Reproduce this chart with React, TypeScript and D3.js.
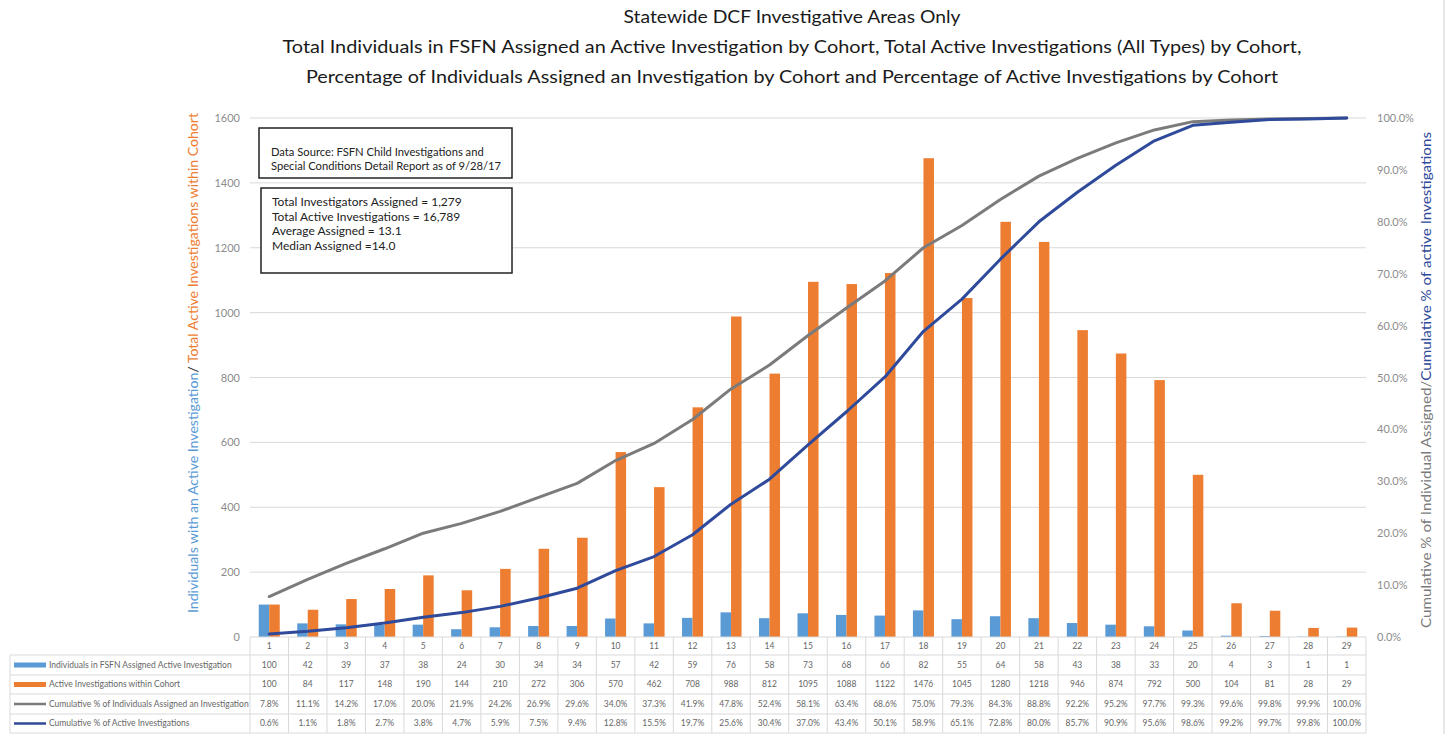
import React, { useEffect, useRef } from 'react'
import { select, scaleBand, scaleLinear, axisLeft, axisRight, line } from 'd3'

const cohorts = ['1', '2', '3', '4', '5', '6', '7', '8', '9', '10', '11', '12', '13', '14', '15',
  '16', '17', '18', '19', '20', '21', '22', '23', '24', '25', '26', '27', '28', '29']

const individuals = [100, 42, 39, 37, 38, 24, 30, 34, 34, 57, 42, 59, 76, 58, 73, 68, 66, 82, 55, 64,
  58, 43, 38, 33, 20, 4, 3, 1, 1]

const activeInv = [100, 84, 117, 148, 190, 144, 210, 272, 306, 570, 462, 708, 988, 812, 1095, 1088,
  1122, 1476, 1045, 1280, 1218, 946, 874, 792, 500, 104, 81, 28, 29]

const cumIndividuals = [7.8, 11.1, 14.2, 17.0, 20.0, 21.9, 24.2, 26.9, 29.6, 34.0, 37.3, 41.9, 47.8,
  52.4, 58.1, 63.4, 68.6, 75.0, 79.3, 84.3, 88.8, 92.2, 95.2, 97.7, 99.3, 99.6, 99.8, 99.9, 100.0]

const cumActive = [0.6, 1.1, 1.8, 2.7, 3.8, 4.7, 5.9, 7.5, 9.4, 12.8, 15.5, 19.7, 25.6, 30.4, 37.0,
  43.4, 50.1, 58.9, 65.1, 72.8, 80.0, 85.7, 90.9, 95.6, 98.6, 99.2, 99.7, 99.8, 100.0]

const leftTicks = [0, 200, 400, 600, 800, 1000, 1200, 1400, 1600]
const rightTicks = [0, 10, 20, 30, 40, 50, 60, 70, 80, 90, 100]

const titleLines = [
  'Statewide DCF Investigative Areas Only',
  'Total Individuals in FSFN Assigned an Active Investigation by Cohort, Total Active Investigations (All Types) by Cohort,',
  'Percentage of Individuals Assigned an Investigation by Cohort and Percentage of Active Investigations by Cohort',
]

const sourceNote = ['Data Source: FSFN Child Investigations and', 'Special Conditions Detail Report as of 9/28/17']
const statsNote = ['Total Investigators Assigned = 1,279', 'Total Active Investigations = 16,789',
  'Average Assigned = 13.1', 'Median Assigned =14.0']

const BLUE = '#5b9bd5'
const ORANGE = '#ed7d31'
const GRAY = '#7b7b7b'
const NAVY = '#2f4a9a'
const GRID = '#d9d9d9'
const FONT = 'Lato, "Open Sans", sans-serif'

const App = () => {
  const svgRef = useRef<SVGSVGElement>(null)

  useEffect(() => {
    const svg = select(svgRef.current)
    svg.selectAll('*').remove()

    const left = 250, right = 1366, top = 118, bottom = 637

    const x = scaleBand().domain(cohorts).range([left, right]).padding(0)
    const xSub = scaleBand().domain(['ind', 'act']).range([0, x.bandwidth()])
      .paddingInner(0).paddingOuter(0.83)
    const yLeft = scaleLinear().domain([0, 1600]).range([bottom, top])
    const yRight = scaleLinear().domain([0, 100]).range([bottom, top])

    svg.append('rect').attr('width', 1452).attr('height', 734).attr('fill', '#fff')

    // title
    const tw = [337, 1019, 972]
    svg.selectAll('.title')
      .data(titleLines)
      .join('text')
      .attr('class', 'title')
      .attr('x', 792)
      .attr('y', (d, i) => 23 + i * 30)
      .attr('text-anchor', 'middle')
      .attr('font-family', FONT)
      .attr('font-size', 18)
      .attr('fill', '#1a1a1a')
      .attr('textLength', (d, i) => tw[i])
      .attr('lengthAdjust', 'spacingAndGlyphs')
      .text(d => d)

    // gridlines
    svg.selectAll('.grid')
      .data(leftTicks.slice(1))
      .join('line')
      .attr('class', 'grid')
      .attr('x1', left).attr('x2', right)
      .attr('y1', d => yLeft(d)).attr('y2', d => yLeft(d))
      .attr('stroke', GRID).attr('stroke-width', 1)

    // bars
    svg.selectAll('.barInd')
      .data(individuals)
      .join('rect')
      .attr('class', 'barInd')
      .attr('x', (d, i) => x(cohorts[i])! + xSub('ind')!)
      .attr('width', xSub.bandwidth())
      .attr('y', d => yLeft(d))
      .attr('height', d => bottom - yLeft(d))
      .attr('fill', BLUE)

    svg.selectAll('.barAct')
      .data(activeInv)
      .join('rect')
      .attr('class', 'barAct')
      .attr('x', (d, i) => x(cohorts[i])! + xSub('act')!)
      .attr('width', xSub.bandwidth())
      .attr('y', d => yLeft(d))
      .attr('height', d => bottom - yLeft(d))
      .attr('fill', ORANGE)

    // cumulative lines
    const cx = (i: number) => x(cohorts[i])! + x.bandwidth() / 2
    const pctLine = line<number>().x((d, i) => cx(i)).y(d => yRight(d))

    svg.append('path').attr('d', pctLine(cumIndividuals))
      .attr('fill', 'none').attr('stroke', GRAY).attr('stroke-width', 3)
      .attr('stroke-linejoin', 'round').attr('stroke-linecap', 'round')
    svg.append('path').attr('d', pctLine(cumActive))
      .attr('fill', 'none').attr('stroke', NAVY).attr('stroke-width', 3)
      .attr('stroke-linejoin', 'round').attr('stroke-linecap', 'round')

    // axes
    const gl = svg.append('g').attr('transform', 'translate(240,0)')
      .call(axisLeft(yLeft).tickValues(leftTicks).tickSize(0).tickPadding(0)
        .tickFormat(d => String(d)))
    gl.select('.domain').remove()
    gl.selectAll('text').attr('font-family', FONT).attr('font-size', 11).attr('fill', '#8c8c8c')

    const gr = svg.append('g').attr('transform', 'translate(1377,0)')
      .call(axisRight(yRight).tickValues(rightTicks).tickSize(0).tickPadding(0)
        .tickFormat(d => (d as number).toFixed(1) + '%'))
    gr.select('.domain').remove()
    gr.selectAll('text').attr('font-family', FONT).attr('font-size', 11).attr('fill', '#8c8c8c')

    // axis titles
    const lt = svg.append('text')
      .attr('transform', 'translate(198,363) rotate(-90)')
      .attr('text-anchor', 'middle')
      .attr('font-family', FONT).attr('font-size', 13)
      .attr('textLength', 500).attr('lengthAdjust', 'spacingAndGlyphs')
    lt.append('tspan').attr('fill', BLUE).text('Individuals with an Active Investigation')
    lt.append('tspan').attr('fill', '#333').text('/ ')
    lt.append('tspan').attr('fill', ORANGE).text('Total Active Investigations within Cohort')

    const rt = svg.append('text')
      .attr('transform', 'translate(1431,380) rotate(-90)')
      .attr('text-anchor', 'middle')
      .attr('font-family', FONT).attr('font-size', 13)
      .attr('textLength', 496).attr('lengthAdjust', 'spacingAndGlyphs')
    rt.append('tspan').attr('fill', GRAY).text('Cumulative % of Individual Assigned/')
    rt.append('tspan').attr('fill', NAVY).text('Cumulative % of active Investigations')

    // note boxes
    const box1 = svg.append('g')
    box1.append('rect').attr('x', 259).attr('y', 128).attr('width', 253).attr('height', 50)
      .attr('fill', '#fff').attr('stroke', '#222').attr('stroke-width', 1.5)
    box1.selectAll('text').data(sourceNote).join('text')
      .attr('x', 271).attr('y', (d, i) => 156 + i * 13.5)
      .attr('font-family', FONT).attr('font-size', 11.2).attr('fill', '#222')
      .text(d => d)

    const box2 = svg.append('g')
    box2.append('rect').attr('x', 261).attr('y', 188).attr('width', 251).attr('height', 85)
      .attr('fill', '#fff').attr('stroke', '#222').attr('stroke-width', 1.5)
    box2.selectAll('text').data(statsNote).join('text')
      .attr('x', 272).attr('y', (d, i) => 206 + i * 14.5)
      .attr('font-family', FONT).attr('font-size', 12).attr('fill', '#222')
      .text(d => d)

    // data table
    const rowTops = [637, 655, 675, 694, 714, 733]
    const tableLeft = 10
    const tg = svg.append('g')

    // horizontal rules
    rowTops.forEach((y, i) => {
      tg.append('line')
        .attr('x1', i === 0 ? left : tableLeft).attr('x2', right)
        .attr('y1', y).attr('y2', y)
        .attr('stroke', GRID)
    })
    // vertical rules
    const colEdges = cohorts.map(c => x(c)!).concat([right])
    tg.selectAll('.vcol').data(colEdges).join('line')
      .attr('class', 'vcol')
      .attr('x1', d => d).attr('x2', d => d)
      .attr('y1', rowTops[0]).attr('y2', rowTops[5])
      .attr('stroke', GRID)
    tg.append('line').attr('x1', tableLeft).attr('x2', tableLeft)
      .attr('y1', rowTops[1]).attr('y2', rowTops[5]).attr('stroke', GRID)

    const rows = [
      { label: 'Individuals in FSFN  Assigned Active Investigation', kind: 'bar', color: BLUE,
        cells: individuals.map(String) },
      { label: 'Active Investigations within Cohort', kind: 'bar', color: ORANGE,
        cells: activeInv.map(String) },
      { label: 'Cumulative % of Individuals Assigned an Investigation', kind: 'line', color: GRAY,
        cells: cumIndividuals.map(v => v.toFixed(1) + '%') },
      { label: 'Cumulative % of Active Investigations', kind: 'line', color: NAVY,
        cells: cumActive.map(v => v.toFixed(1) + '%') },
    ]

    const midOf = (r: number) => (rowTops[r] + rowTops[r + 1]) / 2

    tg.selectAll('.hdr').data(cohorts).join('text')
      .attr('class', 'hdr')
      .attr('x', d => x(d)! + x.bandwidth() / 2)
      .attr('y', midOf(0))
      .attr('dy', '0.35em')
      .attr('text-anchor', 'middle')
      .attr('font-family', FONT).attr('font-size', 8.5).attr('fill', '#666')
      .text(d => d)

    rows.forEach((row, r) => {
      const ym = midOf(r + 1)
      if (row.kind === 'bar') {
        tg.append('rect').attr('x', 14).attr('y', ym - 2.5).attr('width', 32).attr('height', 5)
          .attr('fill', row.color)
      } else {
        tg.append('line').attr('x1', 14).attr('x2', 46).attr('y1', ym).attr('y2', ym)
          .attr('stroke', row.color).attr('stroke-width', 2.5)
      }
      tg.append('text').attr('x', 49).attr('y', ym).attr('dy', '0.35em')
        .attr('font-family', FONT).attr('font-size', 8.5).attr('fill', '#666')
        .text(row.label)
      tg.selectAll('.cell' + r).data(row.cells).join('text')
        .attr('class', 'cell' + r)
        .attr('x', (d, i) => x(cohorts[i])! + x.bandwidth() / 2)
        .attr('y', ym)
        .attr('dy', '0.35em')
        .attr('text-anchor', 'middle')
        .attr('font-family', FONT).attr('font-size', 8.5).attr('fill', '#666')
        .text(d => d)
    })

    // chart frame edge
    svg.append('line').attr('x1', 1444).attr('x2', 1444).attr('y1', 0).attr('y2', 734)
      .attr('stroke', '#d0d0d0')
  }, [])

  return (
    <svg ref={svgRef} width={1452} height={734} viewBox="0 0 1452 734"
      style={{ position: 'absolute', left: 0, top: 0 }} />
  )
}

export default App
